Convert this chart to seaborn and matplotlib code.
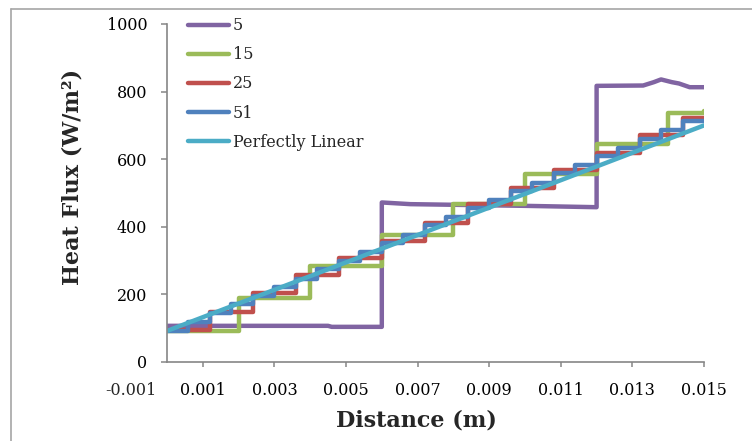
import matplotlib
matplotlib.use("Agg")
import matplotlib.pyplot as plt
import matplotlib.transforms as mtransforms
from matplotlib.lines import Line2D
import seaborn as sns

sns.set_style("ticks")
plt.rcParams['font.family'] = ['DejaVu Serif']

# ---- data -------------------------------------------------------------
# 5 nodes (piecewise, with measured wobble)
x5 = [0.0, 0.0045, 0.0046, 0.006, 0.006, 0.0068, 0.0100, 0.012, 0.012,
      0.0133, 0.0136, 0.0138, 0.0141, 0.0143, 0.0146, 0.015]
y5 = [107, 107, 104, 104, 472, 467, 462, 458, 817,
      818, 828, 836, 828, 824, 813, 813]

# 15 nodes (step edges and levels)
x15 = [0.0, 0.002, 0.004, 0.006, 0.008, 0.010, 0.012, 0.014, 0.015]
y15 = [93, 189, 283, 377, 467, 557, 644, 738, 742]

# 25 nodes
x25 = [0.0, 0.0012, 0.0024, 0.0036, 0.0048, 0.0060, 0.0072, 0.0084,
       0.0096, 0.0108, 0.0120, 0.0132, 0.0144, 0.015]
y25 = [95, 149, 204, 257, 309, 357, 410, 467, 514, 568, 618, 672, 722, 722]

# 51 nodes
x51 = [0.0, 0.0006, 0.0012, 0.0018, 0.0024, 0.0030, 0.0036, 0.0042,
       0.0048, 0.0054, 0.0060, 0.0066, 0.0072, 0.0078, 0.0084, 0.0090,
       0.0096, 0.0102, 0.0108, 0.0114, 0.0120, 0.0126, 0.0132, 0.0138,
       0.0144, 0.015]
y51 = [93, 118, 146, 171, 195, 223, 247, 274, 300, 324, 352, 376, 404,
       428, 455, 479, 507, 531, 558, 582, 610, 634, 661, 686, 712, 712]

# analytical profile
x_lin = [0.0, 0.015]
y_lin = [92, 700]

labels = ["5", "15", "25", "51", "Perfectly Linear"]
colors = ["#8064A2", "#9BBB59", "#C0504D", "#4F81BD", "#4BACC6"]

x_ticks = [0.001, 0.003, 0.005, 0.007, 0.009, 0.011, 0.013, 0.015]
x_tick_labels = ["0.001", "0.003", "0.005", "0.007", "0.009", "0.011",
                 "0.013", "0.015"]
y_ticks = [0, 200, 400, 600, 800, 1000]

# ---- figure -----------------------------------------------------------
W, H = 752, 441
fig = plt.figure(figsize=(W / 100, H / 100), dpi=100)
ax = fig.add_axes([167 / W, 1 - 362 / H, (704 - 167) / W, (362 - 24) / H])

LW = 3.2
common = dict(ax=ax, estimator=None, sort=False, linewidth=LW,
              solid_joinstyle="round", solid_capstyle="round")
sns.lineplot(x=x5, y=y5, color=colors[0], label=labels[0], **common)
sns.lineplot(x=x15, y=y15, color=colors[1], label=labels[1],
             drawstyle="steps-post", **common)
sns.lineplot(x=x25, y=y25, color=colors[2], label=labels[2],
             drawstyle="steps-post", **common)
sns.lineplot(x=x51, y=y51, color=colors[3], label=labels[3],
             drawstyle="steps-post", **common)
sns.lineplot(x=x_lin, y=y_lin, color=colors[4], label=labels[4], **common)

ax.set_xlim(0, 0.015)
ax.set_ylim(0, 1000)
ax.set_xticks(x_ticks, x_tick_labels)
ax.set_yticks(y_ticks)
ax.set_xlabel("")
ax.set_ylabel("")

axis_grey = "#868686"
for side in ("top", "right"):
    ax.spines[side].set_visible(False)
for side in ("left", "bottom"):
    ax.spines[side].set_color(axis_grey)
    ax.spines[side].set_linewidth(1.2)

XPAD = 11
ax.tick_params(axis="y", length=4.3, width=1.1, color=axis_grey, pad=10,
               labelsize=11.5, labelcolor="black")
ax.tick_params(axis="x", length=3.6, width=1.1, color=axis_grey, pad=XPAD,
               labelsize=11.5, labelcolor="black")

# first category label sits left of the origin
trans = mtransforms.blended_transform_factory(ax.transData, ax.transAxes)
trans = mtransforms.offset_copy(trans, fig=fig, y=-(3.6 + XPAD),
                                units="points")
ax.text(-0.001, 0, "-0.001", transform=trans, ha="center", va="top",
        fontsize=11.5, clip_on=False)

leg = ax.legend(loc="upper left", bbox_to_anchor=(0.027, 1.039),
                frameon=False, fontsize=11.5, handlelength=2.6,
                handletextpad=0.2, labelspacing=0.76, borderaxespad=0)
for line in leg.get_lines():
    line.set_linewidth(LW)

fig.text(416 / W, 1 - 421 / H, "Distance (m)", ha="center", va="center",
         fontsize=16, fontweight="bold")
fig.text(72 / W, 1 - 177 / H, "Heat Flux (W/m²)", ha="center",
         va="center", rotation=90, fontsize=16, fontweight="bold")

# chart area border
border = "#a6a6a6"
fig.add_artist(Line2D([11 / W, 11 / W], [0, 1 - 9 / H],
                      transform=fig.transFigure, color=border, lw=1.2))
fig.add_artist(Line2D([11 / W, 1], [1 - 9 / H, 1 - 9 / H],
                      transform=fig.transFigure, color=border, lw=1.2))

fig.savefig("out.png", dpi=100)
